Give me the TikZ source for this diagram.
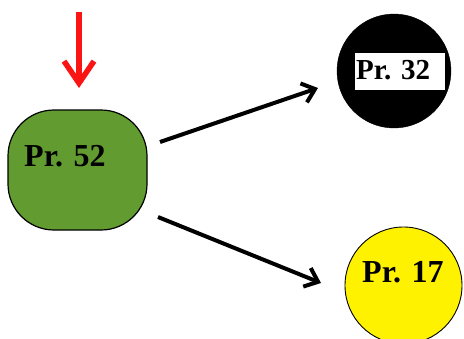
\documentclass[tikz,border=0pt]{standalone}
\usepackage{fontspec}
\setmainfont{Liberation Serif}
\usetikzlibrary{arrows.meta}
\definecolor{leafgreen}{RGB}{98,156,49}
\definecolor{signalred}{RGB}{250,20,20}
\tikzset{
  prlabel/.style={font=\bfseries\fontsize{32}{32}\selectfont, inner sep=0pt, anchor=base west},
  flow/.style={line width=4pt, -{Straight Barb[length=12pt, width=20pt, line width=4pt]}},
  entry/.style={draw=signalred, line width=5.5pt, -{Straight Barb[length=22pt, width=30pt, line width=5.5pt]}},
}
\begin{document}
\begin{tikzpicture}[x=1pt,y=-1pt]
  \useasboundingbox (0,0) rectangle (464,338);

  % start state: rounded green box
  \node[draw, line width=1.2pt, fill=leafgreen, rounded corners=46pt,
        minimum width=139pt, minimum height=120pt, inner sep=0pt] (g) at (77.5,170) {};
  \node[prlabel] (t52) at (24,166) {Pr. 52};

  % upper target: black disc with white label strip
  \node[draw, circle, fill=black, minimum size=114pt, inner sep=0pt] (b) at (394,71) {};
  \node[fill=white, minimum width=90pt, minimum height=37pt, inner sep=0pt] (strip) at (400,71.5) {};
  \node[prlabel, font=\bfseries\fontsize{29}{29}\selectfont] (t32) at (356,79) {Pr. 32};

  % lower target: yellow disc
  \node[draw, line width=0.9pt, circle, fill=yellow, minimum size=117pt, inner sep=0pt] (y) at (403.5,285.5) {};
  \node[prlabel] (t17) at (362,282) {Pr. 17};

  % entry marker above the start state
  \coordinate (inTop) at (79,12);
  \coordinate (inTip) at (79,88);
  \draw[entry] (inTop) -- (inTip);

  % transitions
  \coordinate (upFrom) at (160,142);
  \coordinate (upTo) at (318,88);
  \coordinate (dnFrom) at (158,217);
  \coordinate (dnTo) at (321,283);
  \draw[flow] (upFrom) -- (upTo);
  \draw[flow] (dnFrom) -- (dnTo);
\end{tikzpicture}
\end{document}
